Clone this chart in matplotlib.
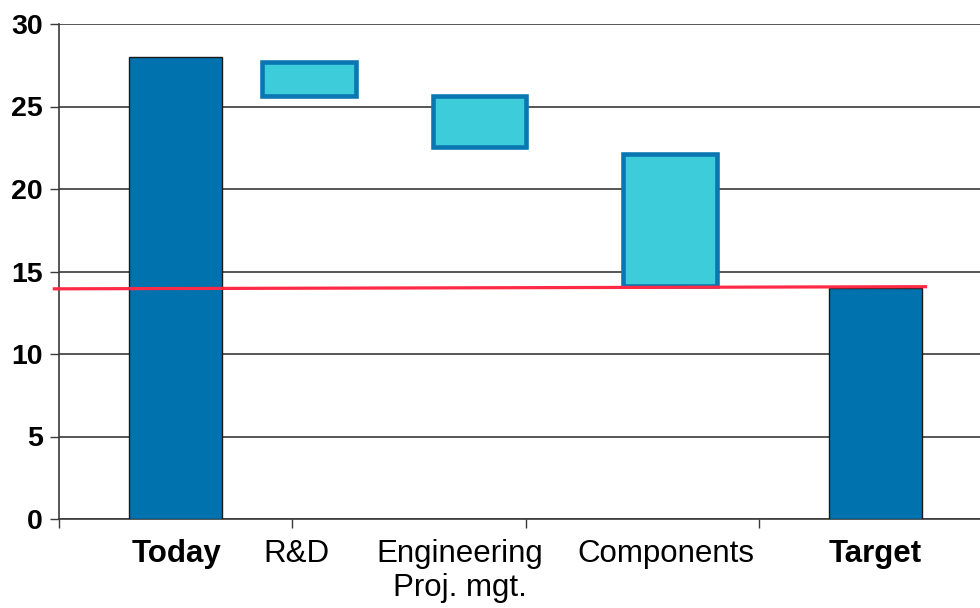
import matplotlib
matplotlib.use("Agg")
import matplotlib.pyplot as plt

plt.rcParams['font.family'] = ['Liberation Sans', 'DejaVu Sans']

# Data
categories = ["Today", "R&D", "Engineering\nProj. mgt.", "Components", "Target"]
totals = {"Today": 28.0, "Target": 14.0}
step_top = [27.7, 25.65, 22.1]       # upper edge of each reduction step
step_bottom = [25.65, 22.55, 14.15]  # lower edge of each reduction step
target_line_x = [-0.02, 3.715]
target_line_y = [13.95, 14.08]
y_ticks = [0, 5, 10, 15, 20, 25, 30]

# Layout
bar_x = [0.50, 1.072, 1.804, 2.619, 3.501]
label_x = [0.505, 1.016, 1.72, 2.60, 3.50]
bold_labels = {"Today", "Target"}
width = 0.40

fig = plt.figure(figsize=(9.8, 6.08), dpi=100)
ax = fig.add_axes([59 / 980, 89 / 608, 933 / 980, 495 / 608])

ax.set_xlim(0, 4)
ax.set_ylim(0, 30)

# Gridlines
for y in y_ticks:
    ax.axhline(y, color='#3a3a3a', lw=1.2, zorder=1)

dark = '#0073AF'
light = '#3DCDDA'
edge_light = '#0A76B2'

# Total bars
ax.bar(bar_x[0], totals["Today"], width=width, color=dark, edgecolor='#1a1a1a', lw=1.0, zorder=3)
ax.bar(bar_x[4], totals["Target"], width=width, color=dark, edgecolor='#1a1a1a', lw=1.0, zorder=3)

# Reduction steps
for i in range(3):
    h = step_top[i] - step_bottom[i]
    ax.bar(bar_x[i + 1], h, bottom=step_bottom[i], width=width,
           color=light, edgecolor=edge_light, lw=3.3, zorder=3)

# Target reference line
ax.plot(target_line_x, target_line_y, color='#FF2A45', lw=2.3, zorder=4, clip_on=False)

# Axes styling
for s in ['top', 'right']:
    ax.spines[s].set_visible(False)
ax.spines['left'].set_color('#3a3a3a')
ax.spines['left'].set_linewidth(1.2)
ax.spines['bottom'].set_color('#3a3a3a')
ax.spines['bottom'].set_linewidth(1.2)

ax.set_yticks(y_ticks)
ax.set_yticklabels([str(v) for v in y_ticks], fontsize=20.5, fontweight='bold')
ax.tick_params(axis='y', direction='out', length=6.5, width=1.0, color='#3a3a3a', pad=5)
ax.set_xticks([0, 1, 2, 3, 4])
ax.set_xticklabels([])
ax.tick_params(axis='x', direction='out', length=6.5, width=1.0, color='#3a3a3a')

# Category labels
trans = ax.get_xaxis_transform()
for lx, lab in zip(label_x, categories):
    ax.text(lx, -0.040, lab, transform=trans, ha='center', va='top',
            fontsize=22.5, fontweight='bold' if lab in bold_labels else 'normal',
            linespacing=1.18, color='black')

fig.savefig('out.png', dpi=100, facecolor='white')
